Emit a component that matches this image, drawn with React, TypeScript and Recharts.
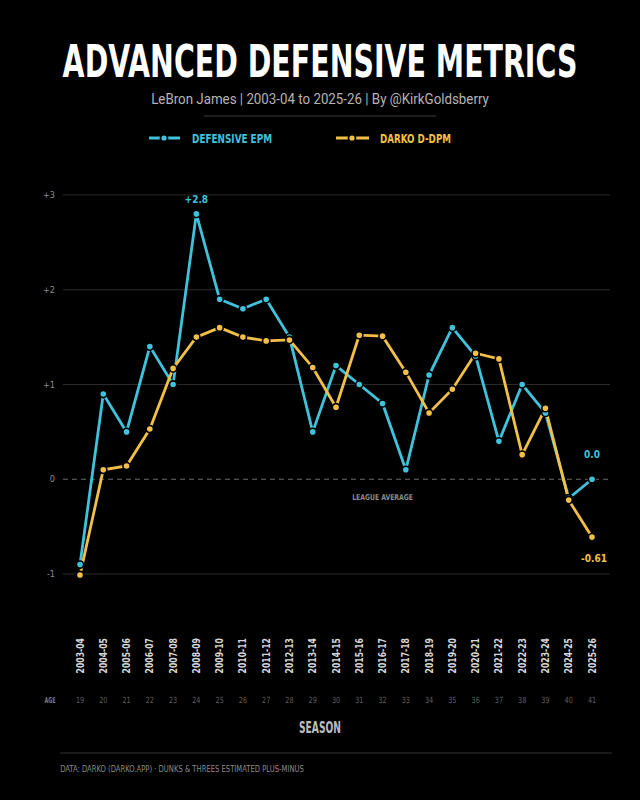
import React, { useLayoutEffect, useRef, useState } from 'react';
import { LineChart, Line, XAxis, YAxis, ReferenceLine, ReferenceDot, LabelList } from 'recharts';

const seasons = ['2003-04','2004-05','2005-06','2006-07','2007-08','2008-09','2009-10','2010-11','2011-12','2012-13','2013-14','2014-15','2015-16','2016-17','2017-18','2018-19','2019-20','2020-21','2021-22','2022-23','2023-24','2024-25','2025-26'];
const ages = [19,20,21,22,23,24,25,26,27,28,29,30,31,32,33,34,35,36,37,38,39,40,41];
const defensiveEpm = [-0.9,0.9,0.5,1.4,1.0,2.8,1.9,1.8,1.9,1.5,0.5,1.2,1.0,0.8,0.1,1.1,1.6,1.3,0.4,1.0,0.7,-0.2,0.0];
const darkoDdpm = [-1.01,0.10,0.14,0.53,1.17,1.50,1.60,1.50,1.46,1.47,1.18,0.76,1.52,1.51,1.13,0.70,0.95,1.33,1.27,0.26,0.75,-0.22,-0.61];
const yTicks = [-1,0,1,2,3];
const gridValues = [-1,1,2,3];

const BLUE = '#3fc3dc';
const YELLOW = '#f3c047';
const COND = "'DejaVu Sans Condensed', 'Roboto', sans-serif";
const SANS = "'Roboto', 'Noto Sans', sans-serif";

const data = seasons.map((s, i) => ({ season: s, age: ages[i], epm: defensiveEpm[i], darko: darkoDdpm[i] }));

const SeasonTick = (props: any) => {
  const { x, y, payload } = props;
  const idx = seasons.indexOf(payload.value);
  return (
    <g>
      <text transform={`translate(${x},${y + 37}) rotate(-90) scale(0.86,1)`} textAnchor="end" dy="0.35em"
        fill="#d6d6d6" fontSize={10} fontWeight={700} fontFamily={COND}>{payload.value}</text>
      <text transform={`translate(${x},${y + 102}) scale(0.85,1)`} textAnchor="middle" fill="#5e5e5e" fontSize={8.5} fontFamily={COND}>{ages[idx]}</text>
    </g>
  );
};

const epmLabel = (props: any) => {
  const { x, y, index, value } = props;
  if (index === 5) {
    return <text x={x} y={y - 11} textAnchor="middle" fill={BLUE} fontSize={10} fontWeight={700} fontFamily={COND}>{`+${Number(value).toFixed(1)}`}</text>;
  }
  if (index === seasons.length - 1) {
    return <text x={x} y={y - 21} textAnchor="middle" fill={BLUE} fontSize={10} fontWeight={700} fontFamily={COND}>{Number(value).toFixed(1)}</text>;
  }
  return null;
};

const darkoLabel = (props: any) => {
  const { x, y, index, value } = props;
  if (index === seasons.length - 1) {
    return <text x={x + 2} y={y + 25} textAnchor="middle" fill={YELLOW} fontSize={10} fontWeight={700} fontFamily={COND}>{Number(value).toFixed(2)}</text>;
  }
  return null;
};

const leagueLabel = (props: any) => {
  const vb = props.viewBox || {};
  const cx = vb.x + (vb.width || 0) / 2;
  return <text transform={`translate(${cx},${vb.y + 21}) scale(0.85,1)`} textAnchor="middle" fill="#8a8a8a" fontSize={8} fontWeight={700} fontFamily={COND}>LEAGUE AVERAGE</text>;
};

function FitText({ x, y, width, children, ...rest }: any) {
  const ref = useRef<SVGTextElement>(null);
  const [sx, setSx] = useState(1);
  useLayoutEffect(() => {
    if (ref.current) {
      const w = ref.current.getComputedTextLength();
      if (w > 0) setSx(width / w);
    }
  }, [width]);
  return (
    <text ref={ref} transform={`translate(${x},${y}) scale(${sx},1)`} textAnchor="middle" {...rest}>{children}</text>
  );
}

export default function App() {
  return (
    <div style={{ position: 'absolute', left: 0, top: 0, width: 640, height: 800, background: '#000', overflow: 'hidden' }}>
      <svg width={640} height={800} style={{ position: 'absolute', left: 0, top: 0 }}>
        <FitText x={320} y={77} width={515} fill="#ffffff" fontSize={44} fontWeight={700} fontFamily={COND}>ADVANCED DEFENSIVE METRICS</FitText>
        <FitText x={320} y={104} width={338} fill="#b4b4b4" fontSize={14} fontFamily={SANS}>LeBron James | 2003-04 to 2025-26 | By @KirkGoldsberry</FitText>
        <line x1={204} x2={436} y1={116} y2={116} stroke="#3c3c3c" strokeWidth={1} />
        <line x1={149} x2={180} y1={138} y2={138} stroke={BLUE} strokeWidth={3} />
        <circle cx={164} cy={138} r={3.5} fill={BLUE} stroke="#000" strokeWidth={1.8} />
        <FitText x={232} y={142.5} width={80} fill={BLUE} fontSize={12.5} fontWeight={700} fontFamily={COND}>DEFENSIVE EPM</FitText>
        <line x1={336} x2={369} y1={138} y2={138} stroke={YELLOW} strokeWidth={3} />
        <circle cx={352} cy={138} r={3.5} fill={YELLOW} stroke="#000" strokeWidth={1.8} />
        <FitText x={415.5} y={142.5} width={71} fill={YELLOW} fontSize={12.5} fontWeight={700} fontFamily={COND}>DARKO D-DPM</FitText>
        <FitText x={50} y={703} width={11} fill="#7a7a7a" fontSize={8} fontWeight={700} fontFamily={COND}>AGE</FitText>
        <FitText x={320} y={733} width={42} fill="#bdbdbd" fontSize={15} fontWeight={700} fontFamily={COND}>SEASON</FitText>
        <line x1={60} x2={612} y1={753} y2={753} stroke="#353535" strokeWidth={1} />
        <FitText x={182} y={772} width={244} fill="#8a8a8a" fontSize={8.5} fontFamily={COND}>DATA: DARKO (DARKO.APP) · DUNKS &amp; THREES ESTIMATED PLUS-MINUS</FitText>
      </svg>
      <div style={{ position: 'absolute', left: 0, top: 0 }}>
        <LineChart width={640} height={800} data={data} margin={{ top: 176, right: 30, bottom: 87, left: 33 }}>
          <XAxis dataKey="season" height={120} axisLine={false} tickLine={false} interval={0}
            padding={{ left: 17, right: 18 }} tick={<SeasonTick />} />
          <YAxis width={30} domain={[-1.2, 3.2]} ticks={yTicks} axisLine={false} tickLine={false}
            tickFormatter={(v: number) => (v > 0 ? `+${v}` : `${v}`)}
            tick={{ fill: '#8a8a8a', fontSize: 9, fontFamily: COND }} />
          {gridValues.map((v) => (
            <ReferenceLine key={v} y={v} stroke="#2b2b2b" strokeWidth={1} />
          ))}
          <ReferenceLine y={0} stroke="#6a6a6a" strokeWidth={1.2} strokeDasharray="5 4" />
          <ReferenceDot x="2016-17" y={0} r={0} fill="none" stroke="none" label={leagueLabel} />
          <Line type="linear" dataKey="epm" stroke={BLUE} strokeWidth={2.8} isAnimationActive={false}
            dot={{ r: 3.6, fill: BLUE, stroke: '#000', strokeWidth: 1.6 }} activeDot={false}>
            <LabelList dataKey="epm" content={epmLabel} />
          </Line>
          <Line type="linear" dataKey="darko" stroke={YELLOW} strokeWidth={2.8} isAnimationActive={false}
            dot={{ r: 3.6, fill: YELLOW, stroke: '#000', strokeWidth: 1.6 }} activeDot={false}>
            <LabelList dataKey="darko" content={darkoLabel} />
          </Line>
        </LineChart>
      </div>
    </div>
  );
}
